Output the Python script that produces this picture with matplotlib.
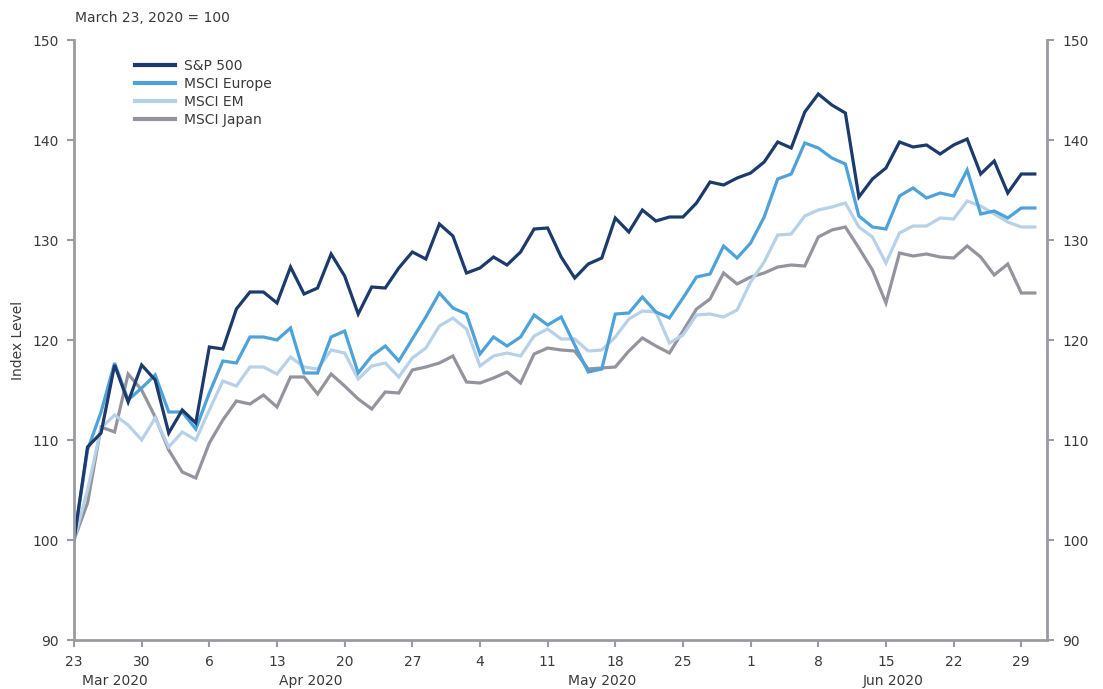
import numpy as np
import pandas as pd
import matplotlib
matplotlib.use("Agg")
import matplotlib.pyplot as plt
import matplotlib.transforms as mtransforms

# business days, March 23 2020 = 100
dates = pd.bdate_range("2020-03-23", "2020-06-30")

sp500 = [100, 109.3, 110.7, 117.5, 113.8, 117.5, 116.0, 110.7, 113.0, 111.7,
         119.3, 119.1, 123.1, 124.8, 124.8, 123.7, 127.3, 124.6, 125.2, 128.6,
         126.4, 122.6, 125.3, 125.2, 127.2, 128.8, 128.1, 131.6, 130.4, 126.7,
         127.2, 128.3, 127.5, 128.8, 131.1, 131.2, 128.3, 126.2, 127.6, 128.2,
         132.2, 130.8, 133.0, 131.9, 132.3, 132.3, 133.7, 135.8, 135.5, 136.2,
         136.7, 137.8, 139.8, 139.2, 142.8, 144.6, 143.5, 142.7, 134.3, 136.1,
         137.2, 139.8, 139.3, 139.5, 138.6, 139.5, 140.1, 136.6, 137.9, 134.7,
         136.6, 136.6]

europe = [100, 109.0, 112.8, 117.7, 114.0, 115.2, 116.5, 112.8, 112.8, 111.1,
          114.7, 117.9, 117.7, 120.3, 120.3, 120.0, 121.2, 116.7, 116.7, 120.3,
          120.9, 116.7, 118.4, 119.4, 117.9, 120.1, 122.3, 124.7, 123.2, 122.6,
          118.6, 120.3, 119.4, 120.3, 122.5, 121.5, 122.3, 119.5, 116.8, 117.1,
          122.6, 122.7, 124.3, 122.8, 122.2, 124.2, 126.3, 126.6, 129.4, 128.2,
          129.7, 132.3, 136.1, 136.6, 139.7, 139.2, 138.2, 137.6, 132.4, 131.3,
          131.1, 134.4, 135.2, 134.2, 134.7, 134.4, 137.0, 132.6, 132.9, 132.2,
          133.2, 133.2]

em = [100, 105.0, 111.2, 112.5, 111.5, 110.0, 112.2, 109.3, 110.8, 110.0,
      113.0, 115.9, 115.4, 117.3, 117.3, 116.6, 118.3, 117.3, 117.1, 119.0,
      118.7, 116.1, 117.4, 117.7, 116.3, 118.2, 119.2, 121.4, 122.2, 121.1,
      117.4, 118.4, 118.7, 118.4, 120.4, 121.1, 120.1, 120.1, 118.9, 119.0,
      120.3, 122.1, 122.9, 122.8, 119.7, 120.5, 122.5, 122.6, 122.3, 123.0,
      125.8, 127.8, 130.5, 130.6, 132.4, 133.0, 133.3, 133.7, 131.3, 130.3,
      127.7, 130.7, 131.4, 131.4, 132.2, 132.1, 133.9, 133.4, 132.6, 131.8,
      131.3, 131.3]

japan = [100, 103.7, 111.3, 110.8, 116.6, 115.0, 112.3, 109.0, 106.8, 106.2,
         109.7, 112.0, 113.9, 113.6, 114.5, 113.3, 116.3, 116.3, 114.6, 116.6,
         115.4, 114.1, 113.1, 114.8, 114.7, 117.0, 117.3, 117.7, 118.4, 115.8,
         115.7, 116.2, 116.8, 115.7, 118.6, 119.2, 119.0, 118.9, 117.1, 117.2,
         117.3, 118.9, 120.2, 119.4, 118.7, 120.9, 123.1, 124.1, 126.7, 125.6,
         126.3, 126.7, 127.3, 127.5, 127.4, 130.3, 131.0, 131.3, 129.2, 127.0,
         123.7, 128.7, 128.4, 128.6, 128.3, 128.2, 129.4, 128.3, 126.5, 127.6,
         124.7, 124.7]

series = [("S&P 500", sp500, "#1d3a6d"),
          ("MSCI Europe", europe, "#4da2da"),
          ("MSCI EM", em, "#b7d1e8"),
          ("MSCI Japan", japan, "#94949e")]

axis_col = "#9a9aa2"
text_col = "#3a3a3a"
plt.rcParams["font.family"] = ["DejaVu Sans"]

fig = plt.figure(figsize=(11.03, 6.89), dpi=100)
ax = fig.add_axes([74/1103, 49/689, 973/1103, 600/689])

x = np.arange(len(dates))
# draw from back to front so navy sits on top
for name, vals, col in reversed(series):
    ax.plot(x, vals, color=col, lw=2.3, solid_joinstyle="miter", label=name)

ax.set_xlim(0, 71.9)
ax.set_ylim(90, 150)
ax.set_yticks(np.arange(90, 151, 10))

mondays = [i for i, d in enumerate(dates) if d.weekday() == 0]
ax.set_xticks(mondays)
ax.set_xticklabels([str(dates[i].day) for i in mondays])

ax.spines["top"].set_visible(False)
for s in ["left", "right", "bottom"]:
    ax.spines[s].set_color(axis_col)
    ax.spines[s].set_linewidth(2)

ax.tick_params(axis="both", colors=axis_col, labelcolor=text_col,
               labelsize=10, width=1.5, length=5)
ax.tick_params(axis="y", right=True, labelright=True, pad=6)
ax.tick_params(axis="x", pad=6)

ax.set_ylabel("Index Level", color=text_col, fontsize=10, labelpad=5)
fig.text(75/1103, 1 - 18/689, "March 23, 2020 = 100", color=text_col,
         fontsize=10, va="center", ha="left")

# month labels under the day ticks
trans = mtransforms.blended_transform_factory(ax.transData, ax.transAxes)
months = pd.Series(x).groupby(dates.to_period("M")).mean()
for per, pos in months.items():
    ax.text(pos, -0.068, per.strftime("%b %Y"), transform=trans,
            ha="center", va="center", color=text_col, fontsize=10)

handles, labels = ax.get_legend_handles_labels()
leg = ax.legend(handles[::-1], labels[::-1], loc="upper left",
                bbox_to_anchor=(0.05, 0.99), frameon=False, fontsize=10,
                handlelength=2.9, labelspacing=0.3, handletextpad=0.6)
for line in leg.get_lines():
    line.set_linewidth(3)
for t in leg.get_texts():
    t.set_color(text_col)

fig.savefig("out.png", dpi=100)
